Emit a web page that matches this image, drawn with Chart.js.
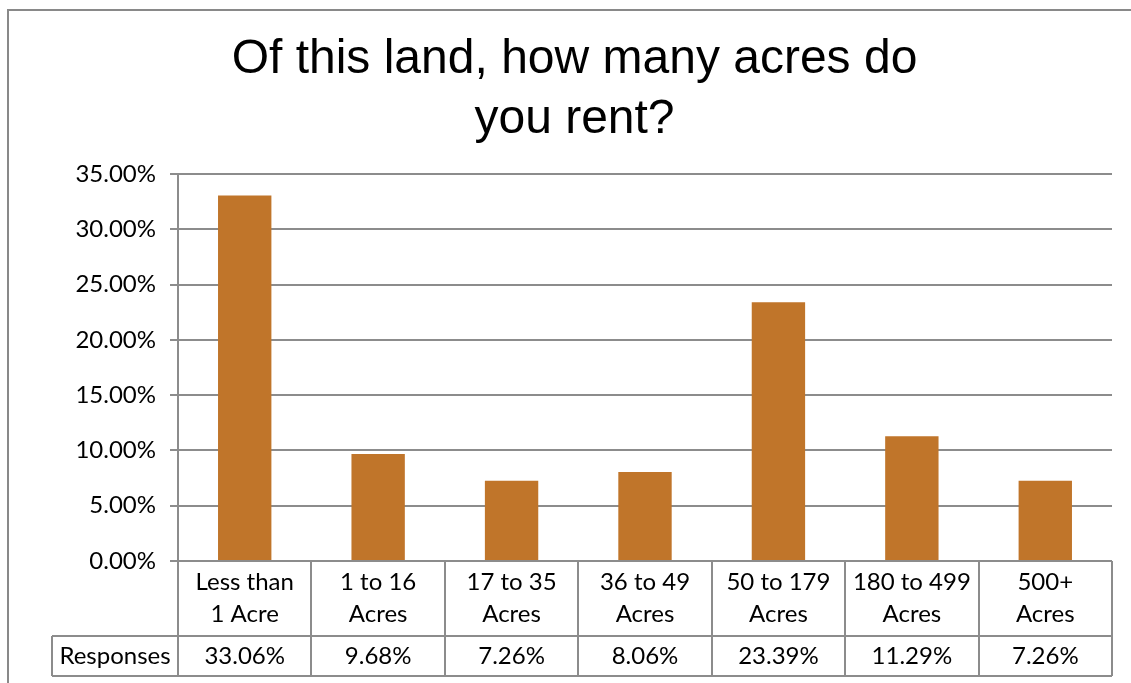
<!DOCTYPE html>
<html>
<head>
<meta charset="utf-8">
<script src="https://cdn.jsdelivr.net/npm/chart.js@4"></script>
<style>
  html, body { margin: 0; padding: 0; background: #fff; }
  #grafica { display: block; }
</style>
</head>
<body>
<canvas id="grafica" width="1131" height="683"></canvas>
<script>
// datos
const categorias = [
    ["Less than", "1 Acre"],
    ["1 to 16", "Acres"],
    ["17 to 35", "Acres"],
    ["36 to 49", "Acres"],
    ["50 to 179", "Acres"],
    ["180 to 499", "Acres"],
    ["500+", "Acres"]
];
const respuestas = [33.06, 9.68, 7.26, 8.06, 23.39, 11.29, 7.26];
const nombreSerie = "Responses";
const tituloGrafica = ["Of this land, how many acres do", "you rent?"];

const colorBarra = "#c0752a";
const colorLinea = "#8c8c8c";
const fuenteTexto = "Lato, 'Open Sans', sans-serif";

// marco exterior (como el borde del grafico de Excel)
const marcoExterior = {
    id: "marcoExterior",
    beforeDraw(chart) {
        const ctx = chart.ctx;
        ctx.save();
        ctx.strokeStyle = "#898989";
        ctx.lineWidth = 2;
        ctx.strokeRect(8, 10, chart.width + 20, chart.height + 20);
        ctx.restore();
    }
};

// tabla de datos debajo del eje x
const tablaDatos = {
    id: "tablaDatos",
    afterDraw(chart) {
        const ctx = chart.ctx;
        const area = chart.chartArea;
        const x = chart.scales.x;
        const n = categorias.length;
        const ancho = (area.right - area.left) / n;
        const altoCabecera = 75;
        const altoFila = 40;
        const yCab = area.bottom;
        const yFila = yCab + altoCabecera;
        const yFin = yFila + altoFila;
        const xEtiqueta = 52;

        ctx.save();
        ctx.strokeStyle = colorLinea;
        ctx.lineWidth = 2;
        ctx.beginPath();
        for (let i = 0; i <= n; i++) {
            const px = Math.round(area.left + i * ancho);
            ctx.moveTo(px, yCab);
            ctx.lineTo(px, yFin);
        }
        ctx.moveTo(xEtiqueta, yFila);
        ctx.lineTo(area.right, yFila);
        ctx.moveTo(xEtiqueta, yFin);
        ctx.lineTo(area.right, yFin);
        ctx.moveTo(xEtiqueta, yFila);
        ctx.lineTo(xEtiqueta, yFin);
        ctx.stroke();

        ctx.fillStyle = "#000";
        ctx.font = "24px " + fuenteTexto;
        ctx.textAlign = "center";
        ctx.textBaseline = "middle";
        categorias.forEach((lineas, i) => {
            const cx = x.getPixelForValue(i);
            ctx.fillText(lineas[0], cx, yCab + 21);
            ctx.fillText(lineas[1], cx, yCab + 53);
            ctx.fillText(respuestas[i].toFixed(2) + "%", cx, yFila + 20);
        });
        ctx.fillText(nombreSerie, (xEtiqueta + area.left) / 2, yFila + 20);
        ctx.restore();
    }
};

new Chart(document.getElementById("grafica"), {
    type: "bar",
    data: {
        labels: categorias,
        datasets: [{
            label: nombreSerie,
            data: respuestas,
            backgroundColor: colorBarra,
            barPercentage: 0.4,
            categoryPercentage: 1
        }]
    },
    options: {
        responsive: false,
        animation: false,
        layout: {
            padding: { top: 0, left: 37, right: 19, bottom: 122 }
        },
        plugins: {
            legend: { display: false },
            tooltip: { enabled: false },
            title: {
                display: true,
                text: tituloGrafica,
                color: "#000",
                font: { family: "'Liberation Sans', Arial, sans-serif", size: 48, weight: "normal", lineHeight: 1.25 },
                padding: { top: 30, bottom: 24 }
            }
        },
        scales: {
            x: {
                display: false
            },
            y: {
                min: 0,
                max: 35,
                afterFit(scale) { scale.width = 141; },
                border: { display: true, color: colorLinea, width: 2 },
                grid: { color: colorLinea, lineWidth: 2, tickLength: 8, drawTicks: true },
                ticks: {
                    stepSize: 5,
                    padding: 14,
                    color: "#000",
                    font: { family: fuenteTexto, size: 24 },
                    callback: v => v.toFixed(2) + "%"
                }
            }
        }
    },
    plugins: [marcoExterior, tablaDatos]
});
</script>
</body>
</html>
